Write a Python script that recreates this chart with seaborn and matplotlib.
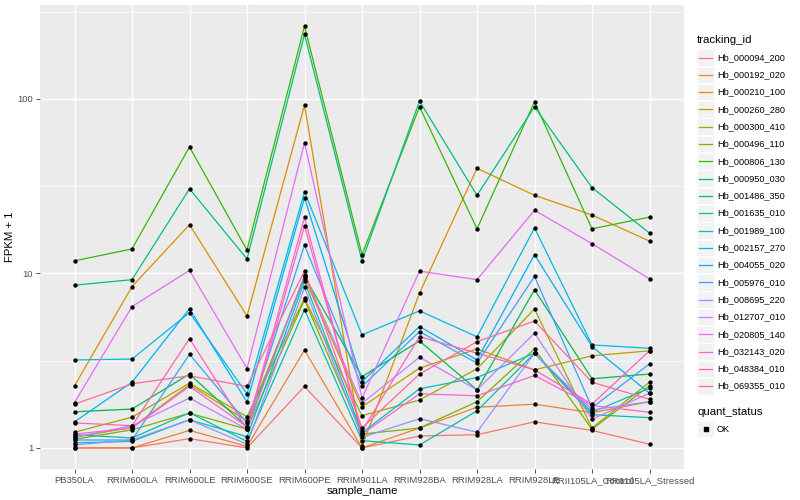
import numpy as np
import pandas as pd
import seaborn as sns
import matplotlib.pyplot as plt
from matplotlib.patches import Rectangle
from matplotlib.lines import Line2D

samples = [
    "PB350LA", "RRIM600LA", "RRIM600LE", "RRIM600SE", "RRIM600PE", "RRIM901LA",
    "RRIM928BA", "RRIM928LA", "RRIM928LE", "RRII105LA_Control", "RRII105LA_Stressed",
]

tracking_ids = [
    "Hb_000094_200", "Hb_000192_020", "Hb_000210_100", "Hb_000260_280",
    "Hb_000300_410", "Hb_000496_110", "Hb_000806_130", "Hb_000950_030",
    "Hb_001486_350", "Hb_001635_010", "Hb_001989_100", "Hb_002157_270",
    "Hb_004055_020", "Hb_005976_010", "Hb_008695_220", "Hb_012707_010",
    "Hb_020805_140", "Hb_032143_020", "Hb_048384_010", "Hb_069355_010",
]

# FPKM + 1, one list per gene, in sample order
hb_000094_200 = [1.0, 1.0, 1.13, 1.0, 2.25, 1.0, 1.17, 1.19, 1.41, 1.26, 1.05]
hb_000192_020 = [1.0, 1.0, 1.26, 1.02, 3.64, 1.0, 1.30, 1.71, 1.78, 1.59, 1.84]
hb_000210_100 = [2.27, 8.4, 19.0, 5.7, 92, 1.02, 7.7, 40, 28, 21.6, 15.3]
hb_000260_280 = [1.15, 1.31, 2.30, 1.43, 9.4, 1.72, 2.86, 3.69, 2.80, 3.37, 3.6]
hb_000300_410 = [1.23, 1.50, 2.35, 1.51, 7.2, 1.53, 1.88, 2.84, 6.25, 1.30, 2.38]
hb_000496_110 = [1.12, 1.27, 1.58, 1.28, 7.05, 1.20, 1.30, 1.84, 3.69, 1.28, 2.27]
hb_000806_130 = [11.8, 13.8, 53, 13.6, 261, 12.8, 90, 18, 96, 18, 21]
hb_000950_030 = [1.61, 1.67, 2.65, 1.32, 9.6, 2.56, 4.1, 2.15, 8.05, 2.49, 2.65]
hb_001486_350 = [8.56, 9.2, 30.5, 12.1, 234, 11.8, 97, 28, 90, 31, 17]
hb_001635_010 = [1.19, 1.14, 1.59, 1.09, 6.2, 1.10, 1.04, 1.63, 3.49, 1.55, 1.49]
hb_001989_100 = [1.07, 1.09, 1.45, 1.16, 9.0, 1.22, 2.18, 2.53, 3.49, 1.60, 2.20]
hb_002157_270 = [3.19, 3.23, 5.96, 2.04, 29.3, 4.44, 6.1, 4.33, 18.2, 3.89, 3.72]
hb_004055_020 = [1.41, 2.38, 6.27, 1.83, 27.1, 2.40, 4.96, 3.19, 12.8, 3.81, 2.06]
hb_005976_010 = [1.11, 1.11, 3.44, 1.39, 14.5, 2.25, 4.64, 3.06, 9.6, 1.70, 3.03]
hb_008695_220 = [1.04, 1.11, 1.45, 1.05, 8.3, 1.15, 1.47, 1.23, 3.49, 1.65, 1.84]
hb_012707_010 = [1.15, 1.34, 1.93, 1.28, 9.8, 1.80, 3.31, 2.15, 4.54, 1.46, 2.06]
hb_020805_140 = [1.82, 6.45, 10.4, 2.85, 56, 1.93, 10.3, 9.2, 23, 14.8, 9.3]
hb_032143_020 = [1.2, 1.30, 2.25, 1.32, 20.9, 1.20, 2.04, 1.99, 2.60, 1.75, 1.60]
hb_048384_010 = [1.39, 1.34, 4.23, 1.28, 18.7, 1.25, 4.34, 3.49, 2.80, 1.78, 3.6]
hb_069355_010 = [1.78, 2.33, 2.59, 2.25, 10.3, 1.30, 2.65, 4.06, 5.33, 2.38, 1.90]

gene_values = [
    hb_000094_200, hb_000192_020, hb_000210_100, hb_000260_280, hb_000300_410,
    hb_000496_110, hb_000806_130, hb_000950_030, hb_001486_350, hb_001635_010,
    hb_001989_100, hb_002157_270, hb_004055_020, hb_005976_010, hb_008695_220,
    hb_012707_010, hb_020805_140, hb_032143_020, hb_048384_010, hb_069355_010,
]


def hue_pal(n, c=100.0, l=65.0):
    # ggplot2 default discrete palette (polar LUV -> sRGB)
    hues = np.linspace(15, 375, n + 1)[:n]
    xn, yn, zn = 95.047, 100.0, 108.883
    un = 4 * xn / (xn + 15 * yn + 3 * zn)
    vn = 9 * yn / (xn + 15 * yn + 3 * zn)
    out = []
    for h in hues:
        u_ = c * np.cos(np.radians(h))
        v_ = c * np.sin(np.radians(h))
        Y = yn * ((l + 16) / 116) ** 3
        u = u_ / (13 * l) + un
        v = v_ / (13 * l) + vn
        X = 9.0 * Y * u / (4 * v)
        Z = -X / 3 - 5 * Y + 3 * Y / v
        X, Y, Z = X / 100, Y / 100, Z / 100
        r = 3.240479 * X - 1.537150 * Y - 0.498535 * Z
        g = -0.969256 * X + 1.875992 * Y + 0.041556 * Z
        b = 0.055648 * X - 0.204043 * Y + 1.057311 * Z
        rgb = []
        for ch in (r, g, b):
            ch = 12.92 * ch if ch <= 0.0031308 else 1.055 * ch ** (1 / 2.4) - 0.055
            rgb.append(min(max(ch, 0.0), 1.0))
        out.append(tuple(rgb))
    return out


colors = hue_pal(len(tracking_ids))

rows = []
for gid, vals in zip(tracking_ids, gene_values):
    for i, (s, v) in enumerate(zip(samples, vals)):
        rows.append({"tracking_id": gid, "sample_name": s, "x": i, "fpkm": v})
df = pd.DataFrame(rows)

plt.rcParams["font.family"] = ["Liberation Sans", "DejaVu Sans"]

W, H = 800, 500
fig = plt.figure(figsize=(8, 5), dpi=100)
fig.patch.set_facecolor("white")
ax = fig.add_axes([40 / W, 1 - 469 / H, 644 / W, 464 / H])
ax.set_facecolor("#EBEBEB")

sns.lineplot(
    data=df, x="x", y="fpkm", hue="tracking_id", hue_order=tracking_ids,
    palette=colors, linewidth=0.9, legend=False, sort=False, ax=ax,
)
sns.scatterplot(
    data=df, x="x", y="fpkm", color="black", s=10, linewidth=0,
    legend=False, ax=ax, zorder=4,
)

ax.set_yscale("log")
lo, hi = np.log10(df["fpkm"].min()), np.log10(df["fpkm"].max())
pad = (hi - lo) * 0.05
ax.set_ylim(10 ** (lo - pad), 10 ** (hi + pad))
ax.set_xlim(-0.6, len(samples) - 0.4)

ax.set_yticks([1, 10, 100])
ax.set_yticklabels(["1", "10", "100"])
ax.set_yticks([10 ** 0.5, 10 ** 1.5, 10 ** 2.5], minor=True)
ax.yaxis.set_minor_formatter(plt.NullFormatter())
ax.set_xticks(range(len(samples)))
ax.set_xticklabels(samples)

ax.grid(which="major", color="white", linewidth=1.0)
ax.grid(which="minor", axis="y", color="white", linewidth=0.5)
ax.set_axisbelow(True)
for sp in ax.spines.values():
    sp.set_visible(False)
ax.tick_params(which="major", length=3, width=0.6, color="#333333",
               labelcolor="#4D4D4D", labelsize=6.8, pad=2)
ax.tick_params(which="minor", length=0)

ax.set_xlabel("sample_name", fontsize=8.2, labelpad=1)
ax.set_ylabel("FPKM + 1", fontsize=8.2, labelpad=2)


def fx(px):
    return px / W


def fy(py):
    return 1 - py / H


# legend: tracking_id
fig.text(fx(697), fy(40), "tracking_id", fontsize=8.2, va="center", ha="left")
for i, (gid, col) in enumerate(zip(tracking_ids, colors)):
    cy = 57.5 + 17.3 * i
    fig.patches.append(Rectangle((fx(697), fy(cy + 8.3)), 17 / W, 16.6 / H,
                                 transform=fig.transFigure, facecolor="#F2F2F2",
                                 edgecolor="white", linewidth=0.6))
    fig.lines.append(Line2D([fx(699), fx(712)], [fy(cy), fy(cy)],
                            transform=fig.transFigure, color=col, linewidth=0.9))
    fig.text(fx(717), fy(cy), gid, fontsize=6.6, va="center", ha="left")

# legend: quant_status
fig.text(fx(697), fy(412), "quant_status", fontsize=8.2, va="center", ha="left")
fig.patches.append(Rectangle((fx(697), fy(429 + 8.3)), 17 / W, 16.6 / H,
                             transform=fig.transFigure, facecolor="#F2F2F2",
                             edgecolor="white", linewidth=0.6))
fig.lines.append(Line2D([fx(705.5)], [fy(429)], transform=fig.transFigure,
                        marker="s", markersize=2.6, color="black", linestyle="none"))
fig.text(fx(717), fy(429), "OK", fontsize=6.6, va="center", ha="left")

fig.savefig("out.png", dpi=100)
